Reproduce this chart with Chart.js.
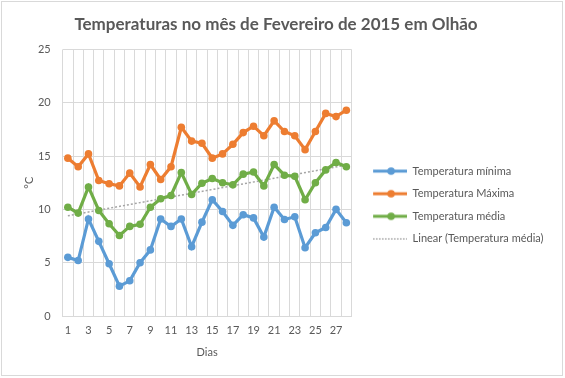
<!DOCTYPE html>
<html>
<head>
<meta charset="utf-8">
<script src="https://cdn.jsdelivr.net/npm/chart.js@4/dist/chart.umd.min.js"></script>
<style>
  html, body { margin: 0; padding: 0; background: #fff; }
  #c { display: block; }
</style>
</head>
<body>
<canvas id="c" width="565" height="378"></canvas>
<script>
const days = ["1","2","3","4","5","6","7","8","9","10","11","12","13","14","15","16","17","18","19","20","21","22","23","24","25","26","27","28"];
const tempMin = [5.5, 5.2, 9.1, 7.0, 4.9, 2.8, 3.3, 5.0, 6.2, 9.1, 8.4, 9.1, 6.5, 8.8, 10.9, 9.8, 8.5, 9.5, 9.2, 7.4, 10.2, 9.05, 9.3, 6.4, 7.8, 8.3, 10.0, 8.75];
const tempMax = [14.8, 14.0, 15.2, 12.7, 12.4, 12.2, 13.4, 12.1, 14.2, 12.8, 14.0, 17.7, 16.4, 16.2, 14.8, 15.2, 16.1, 17.2, 17.8, 16.9, 18.3, 17.3, 16.9, 15.6, 17.3, 19.0, 18.7, 19.3];
const tempMean = [10.2, 9.65, 12.1, 9.9, 8.65, 7.55, 8.4, 8.6, 10.2, 11.0, 11.3, 13.45, 11.4, 12.45, 12.9, 12.5, 12.3, 13.3, 13.5, 12.2, 14.2, 13.2, 13.1, 10.9, 12.5, 13.7, 14.4, 14.0];
// trendline end values (day 1 and day 28)
const trendStart = 9.4;
const trendEnd = 14.15;
const yTicks = [0, 5, 10, 15, 20, 25];

const trendData = days.map((d, i) => i === 0 ? trendStart : (i === days.length - 1 ? trendEnd : null));

const TXT = '#595959';
const GRID = '#d9d9d9';
const FONT = 'Lato, "Open Sans", sans-serif';

function legendIcon(color, dotted) {
  const cv = document.createElement('canvas');
  cv.width = 44; cv.height = 10;
  const g = cv.getContext('2d');
  g.strokeStyle = color;
  if (dotted) {
    g.lineWidth = 1.3;
    g.setLineDash([1.5, 1.5]);
    g.beginPath(); g.moveTo(10, 5); g.lineTo(44, 5); g.stroke();
  } else {
    g.lineWidth = 3;
    g.beginPath(); g.moveTo(10, 5); g.lineTo(44, 5); g.stroke();
    g.fillStyle = color;
    g.beginPath(); g.arc(28, 5, 3.8, 0, Math.PI * 2); g.fill();
  }
  return cv;
}

const seriesColors = ['#5B9BD5', '#ED7D31', '#70AD47', '#A5A5A5'];
const LEGEND_W = 213.5;

const borderPlugin = {
  id: 'outerBorder',
  beforeLayout(chart) {
    const l = chart.legend;
    if (l && !l._patched) {
      const orig = l.fit;
      l.fit = function () { orig.call(this); this.width = LEGEND_W; };
      l._patched = true;
    }
  },
  beforeDraw(chart) {
    const ctx = chart.ctx;
    ctx.save();
    ctx.fillStyle = '#fff';
    ctx.fillRect(0, 0, chart.width, chart.height);
    ctx.strokeStyle = GRID;
    ctx.lineWidth = 1;
    ctx.strokeRect(1.5, 1.5, 561, 374);
    ctx.restore();
  },
  afterLayout(chart) {
    const l = chart.legend;
    if (l) {
      const h = l.bottom - l.top;
      l.top = 154;
      l.bottom = 154 + h;
    }
    const t = chart.titleBlock;
    if (t) {
      t.left = -8; t.right = 560; t.width = 568;
    }
  }
};

const line = (label, data, color) => ({
  label, data,
  borderColor: color, backgroundColor: color,
  borderWidth: 3.2, pointRadius: 3.8, pointHoverRadius: 3.8,
  pointStyle: 'circle',
  pointBackgroundColor: color, pointBorderWidth: 0,
  tension: 0, fill: false
});

new Chart(document.getElementById('c'), {
  type: 'line',
  data: {
    labels: days,
    datasets: [
      line('Temperatura mínima', tempMin, seriesColors[0]),
      line('Temperatura Máxima', tempMax, seriesColors[1]),
      line('Temperatura média', tempMean, seriesColors[2]),
      {
        label: 'Linear (Temperatura média)', data: trendData, spanGaps: true,
        borderColor: seriesColors[3], borderWidth: 1.5, borderDash: [2, 2],
        pointRadius: 0, pointHoverRadius: 0, fill: false
      }
    ]
  },
  options: {
    responsive: false,
    animation: false,
    devicePixelRatio: 1,
    layout: { padding: { left: 19, right: 0, top: 11, bottom: 14 } },
    plugins: {
      title: {
        display: true,
        text: 'Temperaturas no mês de Fevereiro de 2015 em Olhão',
        color: TXT,
        font: { family: FONT, size: 17, weight: 'bold' },
        padding: { top: 3, bottom: 15 }
      },
      legend: {
        position: 'right',
        align: 'start',
        maxWidth: 300,
        labels: {
          usePointStyle: true,
          pointStyleWidth: 44,
          color: TXT,
          font: { family: FONT, size: 11 },
          padding: 11.6,
          generateLabels(chart) {
            return chart.data.datasets.map((ds, i) => ({
              text: ds.label,
              fillStyle: seriesColors[i],
              strokeStyle: seriesColors[i],
              lineWidth: 0,
              hidden: false,
              datasetIndex: i,
              fontColor: TXT,
              pointStyle: legendIcon(seriesColors[i], i === 3)
            }));
          }
        }
      },
      tooltip: { enabled: false }
    },
    scales: {
      x: {
        offset: true,
        grid: { offset: true, color: GRID, drawTicks: false },
        border: { color: GRID },
        ticks: {
          color: TXT, font: { family: FONT, size: 11 }, padding: 8,
          autoSkip: false, maxRotation: 0,
          callback: (v, i) => (i % 2 === 0 ? days[i] : '')
        },
        title: { display: true, text: 'Dias', color: TXT, font: { family: FONT, size: 11 }, padding: { top: 0, bottom: 5 } },
        afterFit: (s) => { s.height = 48; }
      },
      y: {
        min: 0, max: 25,
        afterBuildTicks: (s) => { s.ticks = yTicks.map(v => ({ value: v })); },
        grid: { color: GRID, drawTicks: false },
        border: { display: false },
        ticks: { color: TXT, font: { family: FONT, size: 11 }, padding: 12 },
        title: { display: true, text: '°C', color: TXT, font: { family: FONT, size: 11 }, padding: { top: 4, bottom: 0 } },
        afterFit: (s) => { s.width = 43.7; }
      }
    }
  },
  plugins: [borderPlugin]
});
</script>
</body>
</html>
